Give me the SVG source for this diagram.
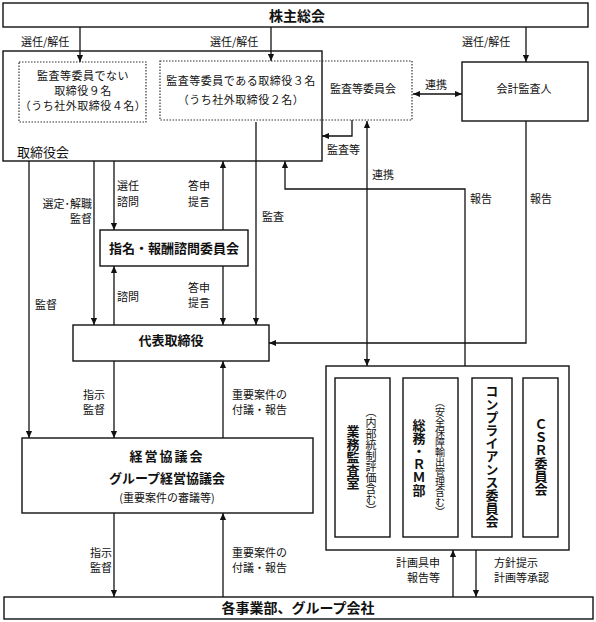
<svg xmlns="http://www.w3.org/2000/svg" width="596" height="622" viewBox="0 0 596 622">
<style>
text{font-family:"Noto Sans CJK JP","Noto Sans",sans-serif;fill:#111}
.b{fill:#fff;stroke:#111;stroke-width:1.4}
.d{fill:none;stroke:#333;stroke-width:1.2;stroke-dasharray:1.5 1.5}
.t{font-size:13px;font-weight:700;text-anchor:middle}
.big{font-size:14px;font-weight:700;text-anchor:middle}
.m{font-size:11px;letter-spacing:0.5px;text-anchor:middle}
.s{font-size:11px}
.sm{font-size:11px;text-anchor:middle}
.v{writing-mode:vertical-rl;text-anchor:middle}
.c path{fill:none;stroke:#111;stroke-width:1.3;marker-end:url(#ah)}
</style>
<defs>
<marker id="ah" viewBox="0 0 8 8" refX="8" refY="4" markerWidth="7" markerHeight="7" orient="auto-start-reverse" markerUnits="userSpaceOnUse">
<path d="M0,0.5 L8,4 L0,7.5 z" fill="#111"/>
</marker>
</defs>
<rect width="596" height="622" fill="#fff"/>

<g id="shareholders">
<rect class="b" x="3" y="3" width="585" height="24"/>
<text class="big" x="297" y="21">株主総会</text>
</g>

<g id="board">
<rect class="b" x="3" y="51" width="319" height="110"/>
<text x="17" y="157" style="font-size:13px">取締役会</text>
</g>

<g id="directors-non-audit">
<rect class="d" x="19" y="62" width="127" height="60"/>
<text class="m" x="83" y="80">監査等委員でない</text>
<text class="m" x="83" y="95">取締役９名</text>
<text class="m" x="83" y="110">（うち社外取締役４名）</text>
</g>

<g id="audit-committee">
<rect class="d" x="160" y="61" width="252" height="59"/>
<text class="m" x="241" y="85">監査等委員である取締役３名</text>
<text class="m" x="241" y="104">（うち社外取締役２名）</text>
<text class="sm" x="363" y="93">監査等委員会</text>
</g>

<g id="auditor">
<rect class="b" x="462" y="62" width="126" height="59"/>
<text class="sm" x="524" y="93">会計監査人</text>
</g>

<g id="nomination">
<rect class="b" x="100" y="230" width="148" height="36"/>
<text class="t" x="174" y="253">指名・報酬諮問委員会</text>
</g>

<g id="ceo">
<rect class="b" x="73" y="325" width="196" height="36"/>
<text class="t" x="171" y="345">代表取締役</text>
</g>

<g id="mgmt">
<rect class="b" x="22" y="438" width="291" height="75"/>
<text class="t" x="167" y="461" style="letter-spacing:2px">経営協議会</text>
<text class="t" x="167" y="483">グループ経営協議会</text>
<text class="sm" x="167" y="502">(重要案件の審議等)</text>
</g>

<g id="internal">
<rect class="b" x="326" y="366" width="243" height="184"/>
<g id="audit-office">
<rect class="b" x="335" y="378" width="55" height="159"/>
<text class="v" x="353" y="457" style="font-size:13px;font-weight:700">業務監査室</text>
<text class="v" x="371" y="461" style="font-size:11px">（内部統制評価含む）</text>
</g>
<g id="general-affairs">
<rect class="b" x="403" y="378" width="55" height="159"/>
<text class="v" x="419" y="458" style="font-size:13px;font-weight:700">総務・ＲＭ部</text>
<text class="v" x="440" y="457" style="font-size:10px">（安全保障輸出管理含む）</text>
</g>
<g id="compliance">
<rect class="b" x="472" y="378" width="40" height="159"/>
<text class="v" x="492" y="456" style="font-size:13px;font-weight:700">コンプライアンス委員会</text>
</g>
<g id="csr">
<rect class="b" x="523" y="378" width="35" height="159"/>
<text class="v" x="541" y="457" style="font-size:13px;font-weight:700">ＣＳＲ委員会</text>
</g>
</g>

<g id="divisions">
<rect class="b" x="4" y="597" width="589" height="22"/>
<text class="big" x="298" y="613">各事業部、グループ会社</text>
</g>

<g id="connectors" class="c">
<path d="M80,27 V62"/>
<path d="M271,27 V61"/>
<path d="M526,27 V62"/>
<path d="M413,94 H462" style="marker-start:url(#ah)"/>
<path d="M352,120 V136 H322"/>
<path d="M367,121 V366" style="marker-start:url(#ah)"/>
<path d="M465,366 V189 H285 V161"/>
<path d="M526,121 V343 H269"/>
<path d="M29,161 V438"/>
<path d="M94,161 V325"/>
<path d="M114,161 V230"/>
<path d="M223,230 V161"/>
<path d="M256,122 V325"/>
<path d="M114,325 V266"/>
<path d="M223,266 V325"/>
<path d="M114,361 V438"/>
<path d="M223,438 V361"/>
<path d="M114,513 V597"/>
<path d="M223,597 V513"/>
<path d="M453,597 V550"/>
<path d="M476,550 V597"/>
</g>

<g id="labels" class="s">
<text class="s" x="21" y="46">選任/解任</text>
<text class="s" x="210" y="46">選任/解任</text>
<text class="s" x="462" y="46">選任/解任</text>
<text class="s" x="425" y="89">連携</text>
<text class="s" x="327" y="154">監査等</text>
<text class="s" x="372" y="179">連携</text>
<text class="s" x="470" y="203">報告</text>
<text class="s" x="530" y="203">報告</text>
<text class="s" x="92" y="208" text-anchor="end">選定･解職</text>
<text class="s" x="92" y="223" text-anchor="end">監督</text>
<text class="s" x="117" y="190">選任</text>
<text class="s" x="117" y="206">諮問</text>
<text class="s" x="188" y="190">答申</text>
<text class="s" x="188" y="206">提言</text>
<text class="s" x="262" y="221">監査</text>
<text class="s" x="35" y="309">監督</text>
<text class="s" x="117" y="301">諮問</text>
<text class="s" x="188" y="292">答申</text>
<text class="s" x="188" y="307">提言</text>
<text class="s" x="83" y="399">指示</text>
<text class="s" x="83" y="414">監督</text>
<text class="s" x="232" y="399">重要案件の</text>
<text class="s" x="232" y="414">付議・報告</text>
<text class="s" x="90" y="557">指示</text>
<text class="s" x="90" y="572">監督</text>
<text class="s" x="232" y="557">重要案件の</text>
<text class="s" x="232" y="572">付議・報告</text>
<text class="s" x="440" y="567" text-anchor="end">計画具申</text>
<text class="s" x="440" y="582" text-anchor="end">報告等</text>
<text class="s" x="494" y="567">方針提示</text>
<text class="s" x="494" y="582">計画等承認</text>
</g>
</svg>
